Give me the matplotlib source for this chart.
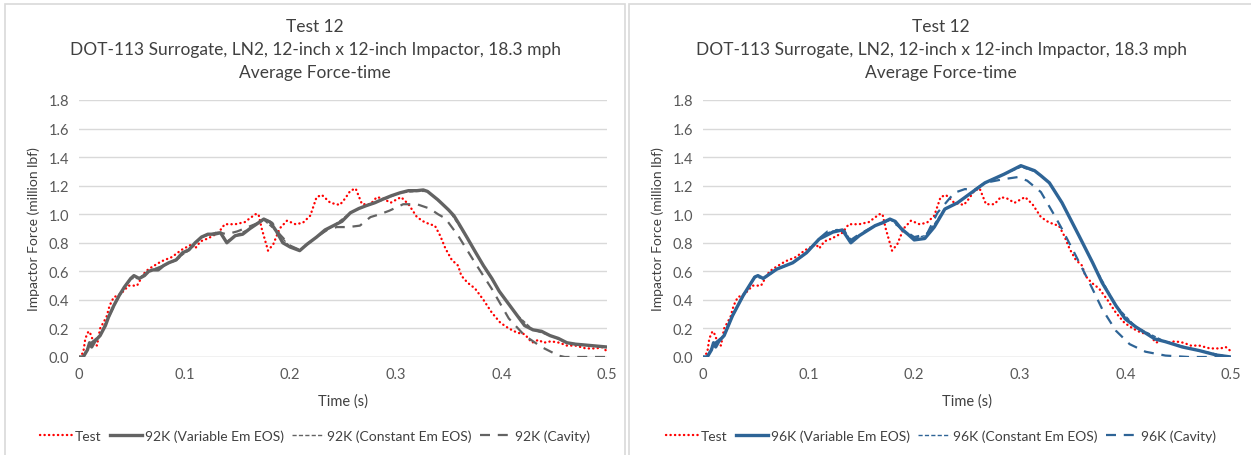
import numpy as np
import matplotlib.pyplot as plt
from matplotlib.patches import Rectangle

plt.rcParams["font.family"] = ["Lato", "DejaVu Sans"]

W, H = 1251, 456

# measured test force (million lbf) vs time (s), shared by both panels
test_t = [0.000, 0.004, 0.006, 0.009, 0.011, 0.014, 0.017, 0.020, 0.023, 0.026,
          0.029, 0.033, 0.037, 0.042, 0.047, 0.055, 0.058, 0.063, 0.069, 0.078,
          0.088, 0.097, 0.107, 0.110, 0.115, 0.122, 0.132, 0.138, 0.148, 0.157,
          0.167, 0.170, 0.173, 0.179, 0.184, 0.190, 0.197, 0.205, 0.212, 0.219,
          0.225, 0.230, 0.238, 0.247, 0.252, 0.257, 0.262, 0.268, 0.276, 0.282,
          0.288, 0.295, 0.300, 0.305, 0.312, 0.320, 0.326, 0.332, 0.337, 0.342,
          0.347, 0.353, 0.359, 0.362, 0.368, 0.375, 0.383, 0.391, 0.399, 0.407,
          0.415, 0.422, 0.429, 0.435, 0.440, 0.447, 0.455, 0.462, 0.470, 0.480,
          0.490, 0.495, 0.500]
test_f = [0.00, 0.03, 0.13, 0.18, 0.16, 0.10, 0.08, 0.20, 0.24, 0.28,
          0.36, 0.42, 0.43, 0.46, 0.50, 0.50, 0.54, 0.60, 0.63, 0.67,
          0.70, 0.75, 0.79, 0.76, 0.81, 0.83, 0.87, 0.93, 0.93, 0.945,
          1.00, 1.00, 0.90, 0.745, 0.79, 0.90, 0.955, 0.93, 0.94, 0.99,
          1.12, 1.135, 1.08, 1.065, 1.11, 1.165, 1.18, 1.07, 1.07, 1.12,
          1.11, 1.08, 1.10, 1.12, 1.07, 0.98, 0.95, 0.93, 0.92, 0.85,
          0.76, 0.68, 0.64, 0.57, 0.52, 0.48, 0.40, 0.31, 0.24, 0.20,
          0.17, 0.16, 0.10, 0.12, 0.10, 0.11, 0.10, 0.08, 0.08, 0.06,
          0.06, 0.07, 0.04]

# 92K, variable Em EOS
var92_t = [0.000, 0.004, 0.008, 0.010, 0.012, 0.015, 0.020, 0.025, 0.028, 0.033,
           0.038, 0.043, 0.049, 0.052, 0.057, 0.062, 0.066, 0.070, 0.075, 0.080,
           0.085, 0.092, 0.098, 0.104, 0.110, 0.116, 0.122, 0.128, 0.134, 0.140,
           0.148, 0.155, 0.162, 0.168, 0.175, 0.181, 0.187, 0.193, 0.200, 0.209,
           0.216, 0.225, 0.233, 0.241, 0.249, 0.257, 0.265, 0.272, 0.280, 0.288,
           0.296, 0.304, 0.312, 0.320, 0.326, 0.330, 0.340, 0.350, 0.355, 0.360,
           0.368, 0.375, 0.383, 0.391, 0.398, 0.406, 0.414, 0.422, 0.430, 0.438,
           0.446, 0.454, 0.462, 0.470, 0.485, 0.500]
var92_f = [0.00, 0.00, 0.05, 0.10, 0.07, 0.11, 0.15, 0.22, 0.28, 0.36,
           0.43, 0.49, 0.55, 0.57, 0.55, 0.57, 0.60, 0.61, 0.61, 0.64,
           0.66, 0.68, 0.73, 0.75, 0.80, 0.84, 0.86, 0.86, 0.87, 0.80,
           0.85, 0.86, 0.90, 0.93, 0.966, 0.945, 0.88, 0.80, 0.77, 0.745,
           0.79, 0.84, 0.89, 0.92, 0.95, 1.01, 1.04, 1.06, 1.08, 1.106,
           1.13, 1.15, 1.165, 1.165, 1.17, 1.16, 1.10, 1.03, 0.99, 0.93,
           0.83, 0.74, 0.64, 0.55, 0.46, 0.38, 0.30, 0.22, 0.19, 0.18,
           0.15, 0.13, 0.10, 0.09, 0.08, 0.07]

# 92K, constant Em EOS (hidden under the variable Em curve)
con92_t = [0.000, 0.004, 0.010, 0.020, 0.028, 0.038, 0.049, 0.057, 0.066, 0.080,
           0.092, 0.104, 0.116, 0.128, 0.134, 0.140, 0.148, 0.162, 0.175, 0.187,
           0.200, 0.209, 0.225, 0.241, 0.257, 0.272, 0.288, 0.304, 0.320, 0.330,
           0.350, 0.368, 0.383, 0.398, 0.414, 0.430, 0.446, 0.462, 0.485, 0.500]
con92_f = [0.00, 0.00, 0.09, 0.15, 0.28, 0.43, 0.55, 0.55, 0.60, 0.64,
           0.68, 0.75, 0.84, 0.87, 0.87, 0.81, 0.85, 0.90, 0.96, 0.88,
           0.77, 0.75, 0.84, 0.92, 1.01, 1.06, 1.10, 1.15, 1.16, 1.16,
           1.03, 0.83, 0.64, 0.46, 0.30, 0.19, 0.15, 0.10, 0.08, 0.07]

# 92K, cavity model
cav92_t = [0.000, 0.004, 0.010, 0.020, 0.028, 0.038, 0.049, 0.057, 0.066, 0.080,
           0.092, 0.104, 0.116, 0.128, 0.134, 0.140, 0.150, 0.160, 0.170, 0.177,
           0.183, 0.190, 0.200, 0.209, 0.216, 0.225, 0.235, 0.244, 0.255, 0.266,
           0.276, 0.285, 0.294, 0.307, 0.320, 0.332, 0.340, 0.347, 0.359, 0.375,
           0.391, 0.407, 0.422, 0.438, 0.454, 0.460, 0.500]
cav92_f = [0.00, 0.00, 0.09, 0.15, 0.28, 0.43, 0.55, 0.55, 0.60, 0.64,
           0.68, 0.75, 0.84, 0.87, 0.87, 0.86, 0.88, 0.91, 0.94, 0.96,
           0.94, 0.86, 0.78, 0.75, 0.79, 0.84, 0.89, 0.91, 0.91, 0.92,
           0.98, 1.00, 1.025, 1.07, 1.07, 1.04, 1.00, 0.97, 0.85, 0.66,
           0.476, 0.27, 0.15, 0.07, 0.01, 0.00, 0.00]

# 96K, variable Em EOS
var96_t = [0.000, 0.004, 0.008, 0.010, 0.012, 0.015, 0.020, 0.028, 0.038, 0.049,
           0.052, 0.057, 0.070, 0.085, 0.098, 0.110, 0.123, 0.132, 0.140, 0.148,
           0.163, 0.170, 0.177, 0.182, 0.188, 0.194, 0.200, 0.210, 0.219, 0.229,
           0.241, 0.254, 0.267, 0.285, 0.301, 0.314, 0.320, 0.328, 0.340, 0.356,
           0.369, 0.378, 0.391, 0.400, 0.410, 0.428, 0.438, 0.454, 0.470, 0.486,
           0.500]
var96_f = [0.00, 0.00, 0.05, 0.10, 0.07, 0.11, 0.15, 0.29, 0.43, 0.56,
           0.57, 0.55, 0.616, 0.66, 0.73, 0.826, 0.875, 0.89, 0.80, 0.85,
           0.92, 0.94, 0.966, 0.95, 0.896, 0.86, 0.82, 0.83, 0.91, 1.036,
           1.08, 1.15, 1.22, 1.28, 1.34, 1.305, 1.27, 1.22, 1.08, 0.85,
           0.66, 0.52, 0.36, 0.266, 0.21, 0.126, 0.107, 0.07, 0.045, 0.014,
           0.00]

# 96K, constant Em EOS (mostly hidden under the variable Em curve)
con96_t = [0.000, 0.004, 0.010, 0.020, 0.028, 0.038, 0.049, 0.057, 0.070, 0.085,
           0.098, 0.110, 0.118, 0.127, 0.134, 0.140, 0.148, 0.163, 0.177, 0.188,
           0.200, 0.210, 0.219, 0.229, 0.241, 0.254, 0.267, 0.285, 0.301, 0.314,
           0.328, 0.340, 0.356, 0.369, 0.391, 0.410, 0.438, 0.470, 0.500]
con96_f = [0.00, 0.00, 0.09, 0.15, 0.29, 0.43, 0.56, 0.55, 0.616, 0.66,
           0.73, 0.83, 0.87, 0.89, 0.89, 0.81, 0.85, 0.92, 0.966, 0.90,
           0.83, 0.85, 0.93, 1.04, 1.08, 1.15, 1.22, 1.28, 1.33, 1.30,
           1.22, 1.08, 0.85, 0.66, 0.36, 0.21, 0.107, 0.045, 0.00]

# 96K, cavity model
cav96_t = [0.000, 0.004, 0.010, 0.020, 0.028, 0.038, 0.049, 0.057, 0.070, 0.085,
           0.098, 0.110, 0.118, 0.127, 0.134, 0.140, 0.148, 0.163, 0.177, 0.188,
           0.200, 0.212, 0.222, 0.238, 0.248, 0.257, 0.267, 0.285, 0.298, 0.307,
           0.320, 0.333, 0.340, 0.353, 0.366, 0.378, 0.391, 0.404, 0.419, 0.438,
           0.460, 0.500]
cav96_f = [0.00, 0.00, 0.09, 0.15, 0.29, 0.43, 0.56, 0.55, 0.616, 0.66,
           0.73, 0.83, 0.88, 0.89, 0.88, 0.82, 0.86, 0.92, 0.96, 0.90,
           0.84, 0.86, 1.01, 1.15, 1.176, 1.17, 1.22, 1.246, 1.26, 1.235,
           1.155, 0.99, 0.896, 0.71, 0.52, 0.336, 0.184, 0.09, 0.037, 0.01,
           0.00, 0.00]

x_ticks = [0, 0.1, 0.2, 0.3, 0.4, 0.5]
x_tick_labels = ["0", "0.1", "0.2", "0.3", "0.4", "0.5"]
y_ticks = [0.0, 0.2, 0.4, 0.6, 0.8, 1.0, 1.2, 1.4, 1.6, 1.8]

title = ("Test 12\nDOT-113 Surrogate, LN2, 12-inch x 12-inch Impactor, 18.3 mph\n"
         "Average Force-time")

TITLE_C = "#404040"
TICK_C = "#595959"
GRID_C = "#d9d9d9"
RED = "#ff0000"


def draw_panel(fig, px_left, panel_left, panel_right, temp, color,
               var, con, cav):
    """Draw one Excel-style panel; positions given in pixels."""
    ax = fig.add_axes([px_left / W, (H - 358) / H, 528 / W, 257 / H])
    ax.plot(test_t, test_f, color=RED, lw=1.7, ls=(0, (0.1, 1.8)),
            dash_capstyle="round", label="Test", zorder=2)
    ax.plot(*var, color=color, lw=2.4, label=f"{temp} (Variable Em EOS)",
            zorder=3)
    ax.plot(*con, color=color, lw=1.0, ls=(0, (3, 1.6)),
            label=f"{temp} (Constant Em EOS)", zorder=4)
    ax.plot(*cav, color=color, lw=1.6, ls=(0, (4.5, 3.5)),
            label=f"{temp} (Cavity)", zorder=5)

    ax.set_xlim(0, 0.5)
    ax.set_ylim(0, 1.8)
    ax.set_xticks(x_ticks)
    ax.set_xticklabels(x_tick_labels)
    ax.set_yticks(y_ticks)
    ax.set_yticklabels([f"{v:.1f}" for v in y_ticks])
    ax.tick_params(length=0, labelsize=10.5, labelcolor=TICK_C, pad=7)
    ax.yaxis.grid(True, color=GRID_C, lw=1.0)
    ax.set_axisbelow(True)
    for s in ax.spines.values():
        s.set_visible(False)
    ax.axhline(0, color=GRID_C, lw=1.0, zorder=1)
    ax.set_xlabel("Time (s)", fontsize=10.5, color=TITLE_C, labelpad=9)
    ax.set_ylabel("Impactor Force (million lbf)", fontsize=10, color=TITLE_C,
                  labelpad=6)

    cx = (panel_left + panel_right) / 2 / W
    fig.text(cx, 1 - 19 / H, title, ha="center", va="top", fontsize=12.5,
             color=TITLE_C, linespacing=1.55)
    fig.legend(*ax.get_legend_handles_labels(), loc="center",
               bbox_to_anchor=(cx, 1 - 437 / H), ncol=4, frameon=False,
               fontsize=10, handlelength=2.3, handletextpad=0.2,
               columnspacing=0.6, labelcolor=TITLE_C)
    fig.add_artist(Rectangle((panel_left / W, -0.05),
                             (panel_right - panel_left) / W, 1.05 - 5 / H,
                             transform=fig.transFigure, fill=False,
                             ec=GRID_C, lw=1.2))
    return ax


fig = plt.figure(figsize=(W / 100, H / 100), dpi=100)
draw_panel(fig, 79, 5, 625, "92K", "#636363",
           (var92_t, var92_f), (con92_t, con92_f), (cav92_t, cav92_f))
draw_panel(fig, 703, 629, 1253, "96K", "#2e6496",
           (var96_t, var96_f), (con96_t, con96_f), (cav96_t, cav96_f))
fig.savefig("out.png", dpi=100)
